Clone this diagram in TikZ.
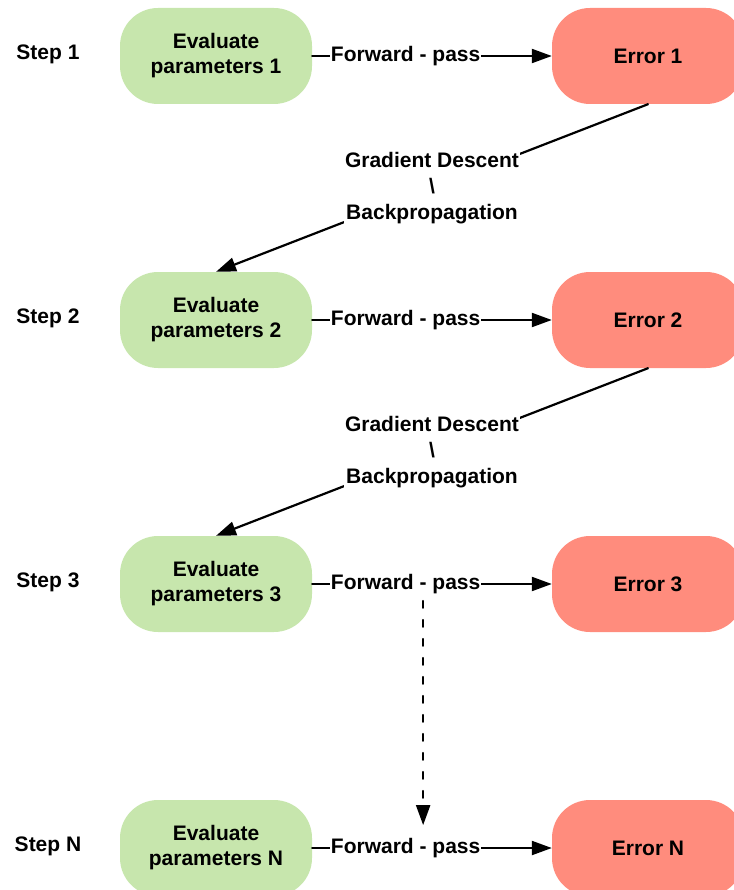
\documentclass[tikz,border=0pt]{standalone}
\usepackage{fontspec}
\setmainfont{Liberation Sans}
\usetikzlibrary{arrows.meta}
\definecolor{evalgreen}{HTML}{C7E6AD}
\definecolor{errred}{HTML}{FF8C7D}
\begin{document}
\begin{tikzpicture}[line cap=round,line join=round,>={Triangle[length=20pt,width=14pt]},x=1pt,y=-1pt,
	every node/.style={font=\fontsize{21}{25}\selectfont\bfseries},
	evalbox/.style={fill=evalgreen,rounded corners=38pt,minimum width=192pt,minimum height=96pt,align=center,inner sep=0pt},
	errbox/.style={fill=errred,rounded corners=38pt,minimum width=192pt,minimum height=96pt,inner sep=0pt},
	flow/.style={line width=2.2pt},
	lbl/.style={fill=white,inner sep=1pt,align=center,font=\fontsize{21}{26}\selectfont\bfseries}]
		\useasboundingbox (0,0) rectangle (733,890);
		\node (step1) at (48,54) {Step 1};
		\node (step2) at (48,318) {Step 2};
		\node (step3) at (48,582) {Step 3};
		\node (stepN) at (48,846) {Step N};
		\node [evalbox] (eval1) at (216,56) {Evaluate\\parameters 1};
		\node [evalbox] (eval2) at (216,320) {Evaluate\\parameters 2};
		\node [evalbox] (eval3) at (216,584) {Evaluate\\parameters 3};
		\node [evalbox] (evalN) at (216,848) {Evaluate\\parameters N};
		\node [errbox] (err1) at (648,56) {Error 1};
		\node [errbox] (err2) at (648,320) {Error 2};
		\node [errbox] (err3) at (648,584) {Error 3};
		\node [errbox] (errN) at (648,848) {Error N};
		\draw [flow,->] (eval1) -- node[lbl,pos=0.39] (fp1) {Forward - pass} (err1);
		\draw [flow,->] (eval2) -- node[lbl,pos=0.39] (fp2) {Forward - pass} (err2);
		\draw [flow,->] (eval3) -- node[lbl,pos=0.39] (fp3) {Forward - pass} (err3);
		\draw [flow,->] (evalN) -- node[lbl,pos=0.39] (fpN) {Forward - pass} (errN);
		\draw [flow,->] (err1.south) -- node[lbl] (gd1) {Gradient Descent\\\textbackslash\\Backpropagation} (eval2.north);
		\draw [flow,->] (err2.south) -- node[lbl] (gd2) {Gradient Descent\\\textbackslash\\Backpropagation} (eval3.north);
		\draw [flow,dash pattern=on 7pt off 12pt,->,shorten <=5pt,shorten >=11pt] ([xshift=17.5pt]fp3.south) -- ([xshift=17.5pt]fpN.north);
\end{tikzpicture}
\end{document}
